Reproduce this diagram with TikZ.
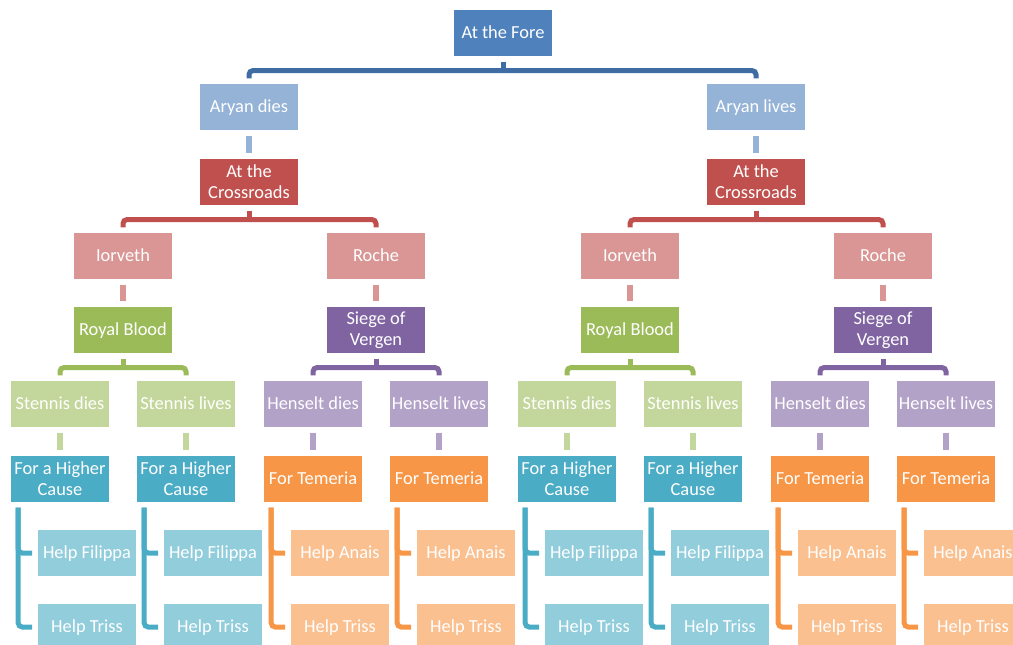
\documentclass[tikz,border=0pt]{standalone}
\usepackage{fontspec}
\setmainfont{Carlito}
\usetikzlibrary{calc}

\definecolor{foreblue}{HTML}{4F81BD}
\definecolor{forelink}{HTML}{3F6CA3}
\definecolor{aryanblue}{HTML}{95B3D7}
\definecolor{crossred}{HTML}{C0504D}
\definecolor{iorred}{HTML}{D99694}
\definecolor{royalgreen}{HTML}{9BBB59}
\definecolor{stennisgreen}{HTML}{C3D69B}
\definecolor{siegepurple}{HTML}{8064A2}
\definecolor{henseltpurple}{HTML}{B3A2C7}
\definecolor{causeaqua}{HTML}{4BACC6}
\definecolor{helpaqua}{HTML}{92CDDC}
\definecolor{temorange}{HTML}{F79646}
\definecolor{helporange}{HTML}{FAC090}

\begin{document}
\begin{tikzpicture}[x=1pt, y=-1pt,
    base/.style={rectangle, draw=white, line width=0.6pt, text=white,
        minimum width=99pt, minimum height=46.5pt, inner sep=0pt, align=center,
        font=\fontsize{18.4}{20.7}\selectfont},
    box/.style={base, text height=11.5pt, text depth=0pt},
    twobox/.style={base},
    link/.style={line width=5pt, rounded corners=4pt, shorten <=5pt, shorten >=5pt},
    stub/.style={line width=6pt, shorten <=5pt, shorten >=5pt}]
    \useasboundingbox (0,0) rectangle (1013,645);
    \clip (0,0) rectangle (1013,645);

    \node[box, fill=foreblue] (fore) at (503,33) {At the Fore};
    \draw[link, forelink, shorten >=0pt] (fore.south) -- ++(0,14) coordinate (foreJ);

    \foreach \s/\o/\fate in {L/0/dies, R/507/lives} {
        \node[box, fill=aryanblue] (aryan\s) at (249+\o,107) {Aryan \fate};
        \node[twobox, fill=crossred] (cross\s) at (249+\o,182) {At the\\Crossroads};
        \node[box, fill=iorred] (iorveth\s) at (123+\o,256) {Iorveth};
        \node[box, fill=iorred] (roche\s) at (376+\o,256) {Roche};
        \node[box, fill=royalgreen] (royal\s) at (123+\o,330) {Royal Blood};
        \node[twobox, fill=siegepurple] (siege\s) at (376+\o,330) {Siege of\\Vergen};

        \draw[link, forelink, shorten <=0pt] (foreJ) -| (aryan\s.north);
        \draw[stub, aryanblue] (aryan\s) -- (cross\s);
        \draw[link, crossred, shorten >=0pt] (cross\s.south) -- ++(0,14) coordinate (cross\s J);
        \draw[link, crossred, shorten <=0pt] (cross\s J) -| (iorveth\s.north);
        \draw[link, crossred, shorten <=0pt] (cross\s J) -| (roche\s.north);
        \draw[stub, iorred] (iorveth\s) -- (royal\s);
        \draw[stub, iorred] (roche\s) -- (siege\s);
        \draw[link, royalgreen, shorten >=0pt] (royal\s.south) -- ++(0,14) coordinate (royal\s J);
        \draw[link, siegepurple, shorten >=0pt] (siege\s.south) -- ++(0,14) coordinate (siege\s J);

        % Stennis branch
        \foreach \c/\x/\st in {1/60/dies, 2/186/lives} {
            \node[box, fill=stennisgreen] (stennis\s\c) at (\x+\o,404) {Stennis \st};
            \node[twobox, fill=causeaqua] (cause\s\c) at (\x+\o,479) {For a Higher\\Cause};
            \node[box, fill=helpaqua] (filippa\s\c) at (\x+27+\o,553) {Help Filippa};
            \node[box, fill=helpaqua] (triss\s\c) at (\x+27+\o,627) {Help Triss};

            \draw[link, royalgreen, shorten <=0pt] (royal\s J) -| (stennis\s\c.north);
            \draw[stub, stennisgreen] (stennis\s\c) -- (cause\s\c);
            \draw[link, causeaqua] ($(cause\s\c.south west)+(8,0)$) |- (filippa\s\c.west);
            \draw[link, causeaqua] ($(cause\s\c.south west)+(8,0)$) |- (triss\s\c.west);
        }

        % Henselt branch
        \foreach \c/\x/\st in {1/313/dies, 2/439/lives} {
            \node[box, fill=henseltpurple] (henselt\s\c) at (\x+\o,404) {Henselt \st};
            \node[box, fill=temorange] (temeria\s\c) at (\x+\o,479) {For Temeria};
            \node[box, fill=helporange] (anais\s\c) at (\x+27+\o,553) {Help Anais};
            \node[box, fill=helporange] (trisst\s\c) at (\x+27+\o,627) {Help Triss};

            \draw[link, siegepurple, shorten <=0pt] (siege\s J) -| (henselt\s\c.north);
            \draw[stub, henseltpurple] (henselt\s\c) -- (temeria\s\c);
            \draw[link, temorange] ($(temeria\s\c.south west)+(8,0)$) |- (anais\s\c.west);
            \draw[link, temorange] ($(temeria\s\c.south west)+(8,0)$) |- (trisst\s\c.west);
        }
    }
\end{tikzpicture}
\end{document}
